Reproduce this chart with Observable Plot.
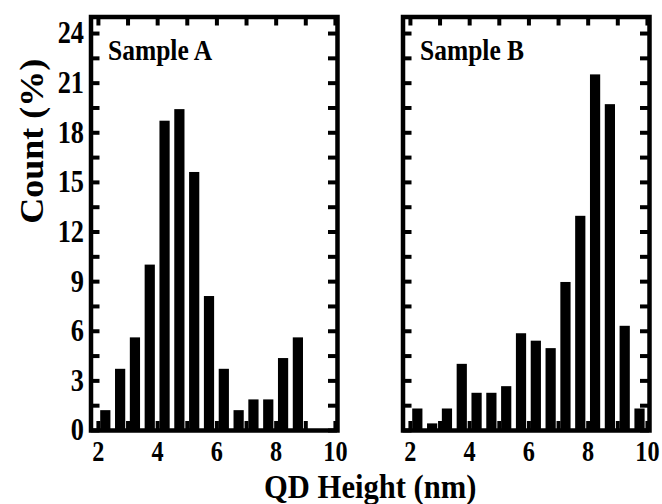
<!DOCTYPE html>
<html><head><meta charset="utf-8">
<script src="https://cdn.jsdelivr.net/npm/d3@7"></script>
<script src="https://cdn.jsdelivr.net/npm/@observablehq/plot@0.6"></script>
<style>body{margin:0;background:#fff;}</style>
</head><body><div id="chart"></div>
<script>
// ---- data ----
const samples = ["Sample A", "Sample B"];
const binCenters = [2.25, 2.75, 3.25, 3.75, 4.25, 4.75, 5.25, 5.75, 6.25, 6.75, 7.25, 7.75, 8.25, 8.75, 9.25, 9.75];
const binWidth = 0.5;
const countA = [1.2, 3.7, 5.6, 10.0, 18.7, 19.4, 15.6, 8.1, 3.7, 1.2, 1.85, 1.85, 4.35, 5.6, 0, 0];
const countB = [1.3, 0.4, 1.3, 4.0, 2.25, 2.25, 2.65, 5.85, 5.4, 4.95, 8.95, 12.95, 21.5, 19.7, 6.3, 1.3];
const yMajorTicks = [0, 3, 6, 9, 12, 15, 18, 21, 24];
const yMinorTicks = [1.5, 4.5, 7.5, 10.5, 13.5, 16.5, 19.5, 22.5];
const xMajorTicks = [2, 4, 6, 8, 10];
const xMinorTicks = [3, 5, 7, 9];
const xTitle = "QD Height (nm)";
const yTitle = "Count (%)";

const rows = [
  ...binCenters.map((x, i) => ({sample: samples[0], x, v: countA[i]})),
  ...binCenters.map((x, i) => ({sample: samples[1], x, v: countB[i]}))
];

// ---- layout ----
const W = 662, H = 504, mL = 90.5, mR = 13, mT = 16.5, mB = 74, padInner = 0.21;
const bw = (W - mL - mR) / (2 - padInner) * (1 - padInner);
const ph = H - mT - mB;
const tickLen = 9;
const tk = {stroke: "black", strokeWidth: 4};
const allX = [...xMajorTicks, ...xMinorTicks];
const allY = [...yMajorTicks, ...yMinorTicks];

const chart = Plot.plot({
  width: W, height: H,
  marginLeft: mL, marginRight: mR, marginTop: mT, marginBottom: mB,
  style: {fontFamily: "'Liberation Serif', 'Times New Roman', serif", fontWeight: "bold", color: "black", background: "white"},
  fx: {domain: samples, paddingInner: padInner, paddingOuter: 0, round: false, axis: null, label: null},
  x: {domain: [1.75, 10.07], label: null},
  y: {domain: [0, 25], label: null},
  marks: [
    Plot.rect(rows, {fx: "sample", x1: d => d.x - binWidth / 2, x2: d => d.x + binWidth / 2, y1: 0, y2: "v", fill: "black", insetLeft: 2.3, insetRight: 2.3}),
    Plot.ruleY(allY, {y: d => d, insetRight: bw - tickLen, ...tk}),
    Plot.ruleY(allY, {y: d => d, insetLeft: bw - tickLen, ...tk}),
    Plot.ruleX(allX, {x: d => d, insetTop: ph - tickLen, ...tk}),
    Plot.ruleX(allX, {x: d => d, insetBottom: ph - tickLen, ...tk}),
    Plot.frame({stroke: "black", strokeWidth: 4.5}),
    Plot.axisY({ticks: yMajorTicks, tickSize: 0, tickPadding: 7, fontSize: 31, label: null}),
    Plot.axisX({ticks: xMajorTicks, tickSize: 0, tickPadding: 10, fontSize: 28.5, label: null}),
    Plot.text(samples, {fx: d => d, text: d => d, frameAnchor: "top-left", dx: 17, dy: 22, fontSize: 30, fontWeight: "bold"}),
    Plot.text([yTitle], {text: d => d, frameAnchor: "left", rotate: -90, dx: -59, lineAnchor: "middle", fontSize: 36, fontWeight: "bold", facet: "super"}),
    Plot.text([xTitle], {text: d => d, frameAnchor: "bottom", dy: 56.5, lineAnchor: "middle", fontSize: 34, fontWeight: "bold", facet: "super"})
  ]
});

// condensed (narrow) lettering like the original figure
chart.querySelectorAll("text").forEach(t => {
  const tr = t.getAttribute("transform") || "";
  let s;
  if (tr.includes("rotate")) s = " scale(1,0.95)";
  else if (t.textContent === xTitle) s = " scale(0.9,1)";
  else s = " scale(0.85,1)";
  t.setAttribute("transform", tr + s);
});

document.getElementById("chart").appendChild(chart);
</script>
</body></html>
